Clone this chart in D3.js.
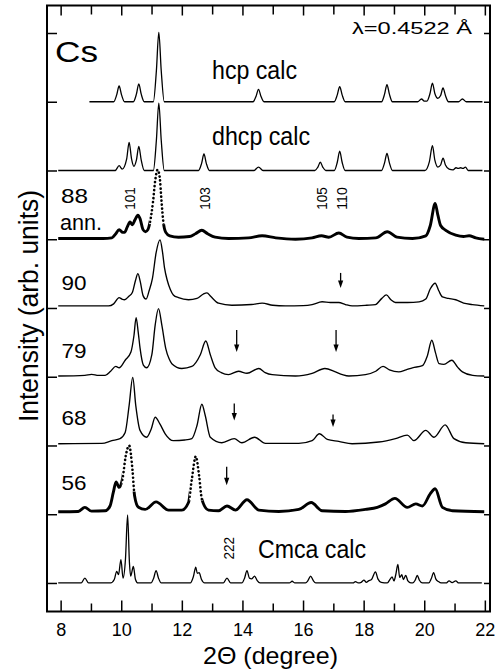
<!DOCTYPE html>
<html><head><meta charset="utf-8">
<script src="https://cdn.jsdelivr.net/npm/d3@7"></script>
<style>body{margin:0;background:#fff}svg text{font-family:"Liberation Sans",Arial,Helvetica,sans-serif;fill:#000}</style>
</head><body><svg id="c" width="500" height="670"></svg>
<script>
// ---------- data ----------
const xTicksMajor = [8, 10, 12, 14, 16, 18, 20, 22];
const xTicksMinor = [9, 11, 13, 15, 17, 19, 21];
const yTicks = [0, 1, 2, 3, 4, 5, 6, 7, 8];
const xLabel = "2Θ (degree)";
const yLabel = "Intensity (arb. units)";
const sampleLabels = ["Cmca calc", "56", "68", "79", "90", "88 ann.", "dhcp calc", "hcp calc"];
const seriesOffsets = [0, 1, 2, 3, 4, 5, 6, 7];

const hcpCalc = [[8.95,0],[9.75,0],[9.85,0.1],[9.93,0.23],[10.01,0.1],[10.11,0],[10.40,0],[10.50,0.11],[10.58,0.26],[10.66,0.11],[10.76,0],[11.06,0],[11.16,0.45],[11.24,1.01],[11.32,0.45],[11.42,0],[14.35,0],[14.45,0.08],[14.53,0.18],[14.61,0.08],[14.71,0],[17.03,0],[17.13,0.1],[17.21,0.22],[17.29,0.1],[17.39,0],[18.59,0],[18.69,0.11],[18.77,0.25],[18.85,0.11],[18.95,0],[19.78,0],[19.91,0.04],[20.0,0.01],[20.09,0.01],[20.19,0.12],[20.27,0.27],[20.35,0.12],[20.45,0.05],[20.54,0.09],[20.62,0.2],[20.70,0.09],[20.80,0],[21.13,0],[21.26,0.04],[21.39,0],[21.92,0]];

const dhcpCalc = [[7.92,0],[9.80,0],[9.93,0.07],[10.03,0.02],[10.18,0.17],[10.26,0.41],[10.34,0.17],[10.42,0.06],[10.50,0.15],[10.58,0.35],[10.66,0.15],[10.76,0],[11.06,0],[11.16,0.44],[11.24,0.98],[11.32,0.44],[11.42,0],[12.55,0],[12.65,0.1],[12.73,0.24],[12.81,0.1],[12.91,0],[14.38,0],[14.53,0.05],[14.68,0],[16.39,0],[16.49,0.05],[16.57,0.12],[16.65,0.05],[16.75,0],[17.03,0],[17.13,0.12],[17.21,0.28],[17.29,0.12],[17.39,0],[18.59,0],[18.69,0.11],[18.77,0.25],[18.85,0.11],[18.95,0],[20.02,0],[20.17,0.13],[20.27,0.36],[20.35,0.15],[20.45,0.05],[20.54,0.08],[20.62,0.18],[20.70,0.08],[20.82,0.02],[20.95,0.01],[21.05,0.04],[21.12,0.03],[21.20,0.04],[21.28,0.03],[21.36,0.05],[21.45,0],[21.92,0]];

const exp88 = [[7.92,0.01],[9.40,0.01],[9.69,0.02],[9.82,0.08],[9.93,0.14],[10.05,0.1],[10.11,0.1],[10.20,0.18],[10.29,0.25],[10.37,0.21],[10.45,0.28],[10.55,0.35],[10.62,0.3],[10.72,0.14],[10.80,0.11],[10.88,0.14],[10.95,0.25],[11.05,0.55],[11.12,0.85],[11.20,1.01],[11.27,0.9],[11.33,0.55],[11.39,0.25],[11.47,0.1],[11.60,0.05],[11.89,0.03],[12.25,0.04],[12.45,0.08],[12.66,0.13],[12.85,0.08],[13.10,0.03],[13.54,0.01],[14.20,0.02],[14.65,0.05],[15.10,0.02],[15.75,0.0],[16.30,0.02],[16.61,0.05],[16.85,0.03],[17.18,0.09],[17.45,0.03],[17.84,0.01],[18.40,0.02],[18.78,0.11],[19.10,0.03],[19.61,0.01],[20.05,0.05],[20.20,0.2],[20.36,0.52],[20.45,0.35],[20.54,0.2],[20.71,0.13],[21.04,0.06],[21.30,0.04],[21.48,0.05],[21.70,0.02],[21.98,0.0]];

const exp90 = [[7.92,0.03],[9.58,0.03],[9.75,0.06],[9.93,0.15],[10.02,0.13],[10.11,0.12],[10.25,0.17],[10.37,0.23],[10.47,0.40],[10.55,0.50],[10.63,0.38],[10.72,0.18],[10.82,0.13],[10.92,0.25],[11.03,0.43],[11.15,0.8],[11.28,0.99],[11.36,0.82],[11.43,0.58],[11.52,0.4],[11.62,0.27],[11.72,0.19],[11.89,0.15],[12.22,0.12],[12.50,0.14],[12.70,0.2],[12.83,0.22],[12.95,0.17],[13.21,0.07],[13.65,0.04],[14.30,0.05],[14.65,0.07],[15.00,0.04],[15.42,0.03],[16.00,0.035],[16.30,0.05],[16.63,0.09],[16.90,0.08],[17.18,0.08],[17.40,0.05],[17.62,0.03],[18.10,0.04],[18.39,0.05],[18.60,0.14],[18.75,0.19],[18.90,0.12],[19.05,0.08],[19.45,0.08],[19.83,0.09],[20.05,0.13],[20.20,0.28],[20.36,0.36],[20.48,0.25],[20.60,0.16],[20.80,0.14],[21.04,0.12],[21.30,0.07],[21.59,0.05],[21.98,0.03]];

const exp79 = [[7.92,0.01],[8.80,0.02],[9.02,0.035],[9.25,0.02],[9.47,0.02],[9.65,0.08],[9.82,0.15],[9.93,0.13],[10.13,0.24],[10.32,0.36],[10.42,0.6],[10.49,0.86],[10.56,0.65],[10.62,0.42],[10.73,0.17],[10.84,0.13],[11.01,0.32],[11.12,0.75],[11.23,0.99],[11.34,0.75],[11.47,0.41],[11.58,0.26],[11.67,0.19],[12.00,0.12],[12.33,0.15],[12.61,0.32],[12.79,0.52],[12.94,0.32],[13.10,0.13],[13.30,0.06],[13.54,0.03],[13.87,0.08],[14.15,0.05],[14.54,0.12],[14.75,0.06],[14.98,0.03],[15.75,0.01],[16.30,0.05],[16.72,0.12],[17.07,0.07],[17.30,0.03],[17.51,0.01],[18.06,0.03],[18.40,0.08],[18.64,0.15],[18.85,0.10],[19.16,0.07],[19.40,0.1],[19.61,0.13],[19.94,0.16],[20.10,0.3],[20.25,0.53],[20.37,0.35],[20.49,0.19],[20.65,0.18],[20.91,0.24],[21.10,0.14],[21.26,0.07],[21.60,0.02],[21.98,0.01]];

const exp68 = [[7.92,0.025],[9.36,0.03],[9.69,0.07],[9.96,0.1],[10.13,0.19],[10.26,0.58],[10.38,0.99],[10.48,0.58],[10.62,0.22],[10.84,0.12],[10.99,0.24],[11.12,0.41],[11.28,0.31],[11.45,0.17],[11.72,0.07],[12.10,0.08],[12.33,0.10],[12.50,0.29],[12.66,0.60],[12.77,0.44],[12.94,0.12],[13.32,0.04],[13.73,0.10],[13.98,0.04],[14.40,0.12],[14.76,0.03],[15.86,0.03],[16.30,0.07],[16.54,0.17],[16.80,0.09],[17.18,0.06],[17.62,0.025],[18.50,0.05],[19.05,0.10],[19.44,0.15],[19.66,0.07],[20.05,0.22],[20.32,0.12],[20.69,0.30],[20.98,0.10],[21.37,0.04],[21.98,0.025]];

const exp56 = [[7.92,0.035],[8.58,0.04],[8.80,0.10],[9.02,0.045],[9.47,0.05],[9.63,0.12],[9.74,0.32],[9.83,0.47],[9.93,0.39],[10.04,0.51],[10.15,0.85],[10.26,1.0],[10.37,0.65],[10.44,0.27],[10.57,0.10],[10.79,0.07],[11.15,0.18],[11.56,0.06],[12.0,0.06],[12.22,0.17],[12.33,0.51],[12.46,0.84],[12.57,0.56],[12.66,0.22],[12.88,0.06],[13.21,0.05],[13.49,0.12],[13.77,0.06],[14.15,0.21],[14.54,0.06],[15.2,0.04],[15.86,0.07],[16.27,0.17],[16.63,0.05],[17.40,0.04],[18.06,0.07],[18.45,0.10],[18.72,0.15],[19.03,0.23],[19.44,0.10],[19.72,0.15],[19.94,0.12],[20.20,0.3],[20.36,0.37],[20.60,0.10],[20.93,0.05],[21.98,0.035]];

const cmcaCalc = [[7.92,0],[8.68,0],[8.80,0.07],[8.92,0],[9.65,0],[9.77,0.05],[9.85,0.17],[9.91,0.12],[9.99,0.34],[10.06,0.07],[10.14,0.35],[10.21,0.99],[10.27,0.3],[10.31,0.1],[10.40,0.24],[10.47,0.05],[10.55,0],[10.98,0],[11.07,0.07],[11.15,0.18],[11.23,0.07],[11.32,0],[12.28,0],[12.38,0.09],[12.46,0.23],[12.51,0.14],[12.57,0.15],[12.65,0.05],[12.75,0],[13.37,0],[13.49,0.07],[13.61,0],[13.98,0],[14.07,0.07],[14.15,0.18],[14.23,0.07],[14.31,0.06],[14.40,0.10],[14.48,0.04],[14.58,0],[15.55,0],[15.64,0.025],[15.73,0],[16.08,0],[16.17,0.04],[16.25,0.10],[16.33,0.04],[16.42,0],[17.65,0],[17.73,0.02],[17.82,0],[17.92,0.01],[18.01,0.04],[18.09,0.01],[18.16,0.03],[18.26,0.05],[18.39,0.16],[18.47,0.06],[18.58,0.01],[18.78,0],[18.88,0.06],[18.94,0.09],[19.00,0.03],[19.06,0.12],[19.13,0.27],[19.19,0.08],[19.26,0.12],[19.31,0.05],[19.39,0.11],[19.46,0.03],[19.56,0],[19.62,0],[19.70,0.04],[19.77,0.11],[19.84,0.04],[19.94,0],[20.15,0],[20.23,0.06],[20.31,0.15],[20.38,0.06],[20.47,0.02],[20.56,0],[20.72,0],[20.82,0.03],[20.92,0.005],[21.04,0.03],[21.14,0],[21.90,0]];

// hkl labels: [text, 2theta, series offset]
const hklLabels = [["101", 10.24, 5], ["103", 12.73, 5], ["105", 16.58, 5], ["110", 17.22, 5], ["222", 13.51, 0]];
// arrows: [series offset, 2theta, top, bottom]
const arrows = [[4, 17.24, 0.51, 0.29], [3, 13.81, 0.68, 0.36], [3, 17.09, 0.68, 0.36], [2, 13.73, 0.61, 0.365], [2, 16.99, 0.45, 0.27], [1, 13.48, 0.69, 0.42]];

// ---------- layout / style ----------
const svg = d3.select("#c");
const L = 47, R = 490, T = 5.5, B = 611.5;
const x = d3.scaleLinear().domain([7.55, 22.17]).range([L, R]);
const y = d3.scaleLinear().domain([-0.415, 8.4]).range([B, T]);

const series = [
  {data: cmcaCalc, off: seriesOffsets[0], w: 1.3},
  {data: exp56, off: seriesOffsets[1], w: 2.9, dots: [[10.02, 10.50, 0.33], [12.24, 12.70, 0.2]]},
  {data: exp68, off: seriesOffsets[2], w: 1.35},
  {data: exp79, off: seriesOffsets[3], w: 1.35},
  {data: exp90, off: seriesOffsets[4], w: 1.35},
  {data: exp88, off: seriesOffsets[5], w: 2.9, dots: [[10.92, 11.45, 0.22]]},
  {data: dhcpCalc, off: seriesOffsets[6], w: 1.3},
  {data: hcpCalc, off: seriesOffsets[7], w: 1.3}
];

const defs = svg.append("defs");
series.forEach((s, i) => {
  const line = d3.line().x(d => x(d[0])).y(d => y(d[1] + s.off)).curve(d3.curveMonotoneX);
  if (s.dots) {
    const m = defs.append("mask").attr("id", "m" + i).attr("maskUnits", "userSpaceOnUse")
      .attr("x", 0).attr("y", 0).attr("width", 500).attr("height", 670);
    m.append("rect").attr("x", 0).attr("y", 0).attr("width", 500).attr("height", 670).attr("fill", "#fff");
    const cp = defs.append("clipPath").attr("id", "cp" + i);
    s.dots.forEach(r => {
      const rx = x(r[0]), rw = x(r[1]) - x(r[0]), ry = 0, rh = y(s.off + r[2]);
      m.append("rect").attr("x", rx).attr("y", ry).attr("width", rw).attr("height", rh).attr("fill", "#000");
      cp.append("rect").attr("x", rx).attr("y", ry).attr("width", rw).attr("height", rh);
    });
    svg.append("path").attr("d", line(s.data)).attr("fill", "none").attr("stroke", "#000")
      .attr("stroke-width", s.w).attr("stroke-linejoin", "round").attr("mask", `url(#m${i})`);
    svg.append("path").attr("d", line(s.data)).attr("fill", "none").attr("stroke", "#000")
      .attr("stroke-width", 2.6).attr("stroke-linecap", "round").attr("stroke-dasharray", "0.1,3.9")
      .attr("clip-path", `url(#cp${i})`);
  } else {
    svg.append("path").attr("d", line(s.data)).attr("fill", "none").attr("stroke", "#000")
      .attr("stroke-width", s.w).attr("stroke-linejoin", "round");
  }
});

// axes
function styleAxis(g) { g.select(".domain").remove(); g.selectAll("line").attr("stroke", "#000").attr("stroke-width", 1.5); }
svg.append("g").attr("transform", `translate(0,${B})`)
  .call(d3.axisBottom(x).tickValues(xTicksMajor).tickSizeInner(-11).tickSizeOuter(0).tickPadding(12.2).tickFormat(d3.format("d")))
  .call(styleAxis)
  .call(g => g.selectAll("text").attr("font-size", 18).attr("font-family", null));
svg.append("g").attr("transform", `translate(0,${B})`)
  .call(d3.axisBottom(x).tickValues(xTicksMinor).tickSizeInner(-8).tickSizeOuter(0).tickFormat(""))
  .call(styleAxis);
svg.append("g").attr("transform", `translate(0,${T})`)
  .call(d3.axisTop(x).tickValues(xTicksMajor).tickSizeInner(-10).tickSizeOuter(0).tickFormat(""))
  .call(styleAxis);
svg.append("g").attr("transform", `translate(0,${T})`)
  .call(d3.axisTop(x).tickValues(xTicksMinor).tickSizeInner(-9).tickSizeOuter(0).tickFormat(""))
  .call(styleAxis);
svg.append("g").attr("transform", `translate(${L},0)`)
  .call(d3.axisLeft(y).tickValues(yTicks).tickSizeInner(-10).tickSizeOuter(0).tickFormat(""))
  .call(styleAxis);
svg.append("g").attr("transform", `translate(${R},0)`)
  .call(d3.axisRight(y).tickValues(yTicks).tickSizeInner(-6).tickSizeOuter(0).tickFormat(""))
  .call(styleAxis);

svg.append("rect").attr("x", L).attr("y", T).attr("width", R - L).attr("height", B - T)
  .attr("fill", "none").attr("stroke", "#000").attr("stroke-width", 2);

// arrows
arrows.forEach(a => {
  const px = x(a[1]), y0 = y(a[0] + a[2]), y1 = y(a[0] + a[3]);
  svg.append("line").attr("x1", px).attr("x2", px).attr("y1", y0).attr("y2", y1 - 5)
    .attr("stroke", "#000").attr("stroke-width", 1.3);
  svg.append("path").attr("d", `M${px - 2.6},${y1 - 7.5}L${px + 2.6},${y1 - 7.5}L${px},${y1}Z`).attr("fill", "#000");
});

// text helper
function txt(s, tx, ty, size, len, rot, anchor) {
  const t = svg.append("text").attr("font-size", size).attr("textLength", len)
    .attr("lengthAdjust", "spacingAndGlyphs").text(s);
  if (anchor) t.attr("text-anchor", anchor);
  if (rot) t.attr("transform", `translate(${tx},${ty}) rotate(-90)`);
  else t.attr("x", tx).attr("y", ty);
  return t;
}

txt("Cs", 55, 62, 30, 43);
txt("λ=0.4522 Å", 352, 33.5, 17, 120);
txt(sampleLabels[7], 212, 78.5, 26, 85);
txt(sampleLabels[6], 212, 145, 26, 98);
txt(sampleLabels[0], 258, 558, 26, 108);
const s88 = sampleLabels[5].split(" ");
txt(s88[0], 61, 203, 21, 27);
txt(s88[1], 60, 229.7, 22, 42);
txt(sampleLabels[4], 61.5, 289.7, 21, 25);
txt(sampleLabels[3], 61.5, 358.3, 21, 25);
txt(sampleLabels[2], 61.5, 425, 21, 25);
txt(sampleLabels[1], 61.5, 490, 21, 25);

hklLabels.forEach(h => {
  const bx = x(h[1]) + 6.5;
  const by = h[2] === 5 ? y(h[2] + 0.43) : y(h[2] + 0.34);
  txt(h[0], bx, by, 15, 22.5, true);
});

txt(xLabel, 270.5, 663.5, 24, 135, false, "middle");
txt(yLabel, 38, 306, 27, 232, true, "middle");
</script></body></html>
